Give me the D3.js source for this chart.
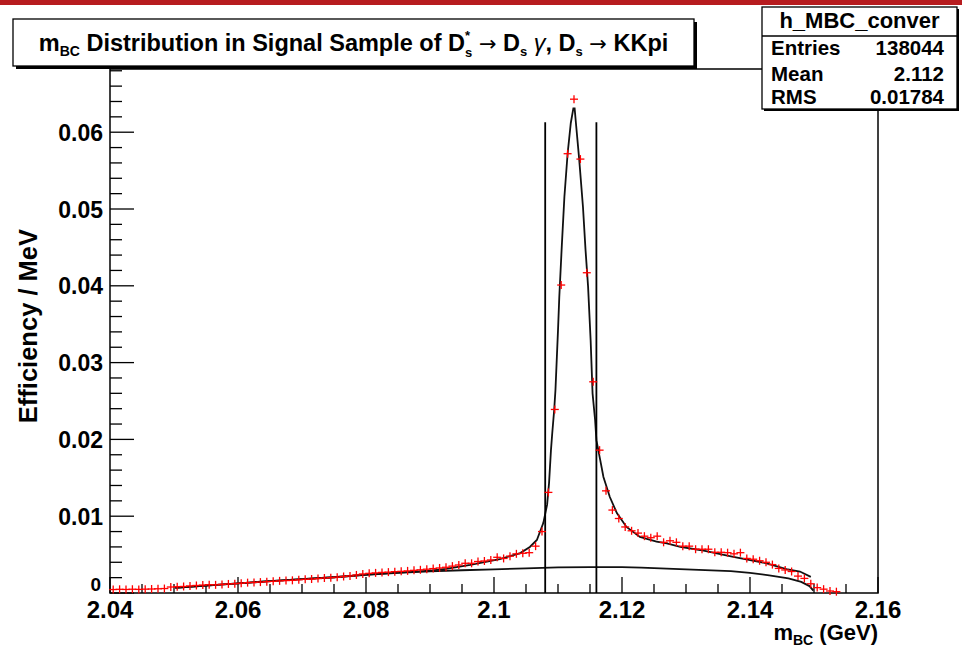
<!DOCTYPE html>
<html>
<head>
<meta charset="utf-8">
<script src="https://d3js.org/d3.v7.min.js"></script>
<style>
  body { margin: 0; background: #fff; }
  svg { display: block; font-family: 'Liberation Sans', Arial, sans-serif; font-weight: bold; }
</style>
</head>
<body>
<svg></svg>
<script>
// efficiency per 1 MeV bin, bins start at 2.040 GeV
const efficiency = [
  0.00045, 0.00048, 0.00046, 0.00049, 0.00047, 0.00050, 0.00052, 0.00055, 0.00058, 0.00078,
  0.00082, 0.00085, 0.00092, 0.00098, 0.00103, 0.00108, 0.00106, 0.00112, 0.00118, 0.00122,
  0.00128, 0.00135, 0.00138, 0.00142, 0.00148, 0.00152, 0.00158, 0.00162, 0.00165, 0.00172,
  0.00178, 0.00182, 0.00188, 0.00195, 0.00200, 0.00206, 0.00215, 0.00222, 0.00235, 0.00248,
  0.00256, 0.00262, 0.00268, 0.00272, 0.00278, 0.00282, 0.00288, 0.00295, 0.00302, 0.00310,
  0.00318, 0.00326, 0.00335, 0.00350, 0.00365, 0.00387, 0.00387, 0.00410, 0.00417, 0.00430,
  0.00465, 0.00450, 0.00480, 0.00510, 0.00517, 0.00525, 0.00610, 0.00800, 0.01310, 0.02390,
  0.04010, 0.05720, 0.06430, 0.05650, 0.04170, 0.02750, 0.01860, 0.01330, 0.01080, 0.00970,
  0.00860, 0.00810, 0.00780, 0.00740, 0.00720, 0.00740, 0.00660, 0.00680, 0.00660, 0.00610,
  0.00610, 0.00570, 0.00570, 0.00570, 0.00530, 0.00530, 0.00525, 0.00510, 0.00525, 0.00450,
  0.00440, 0.00420, 0.00400, 0.00370, 0.00320, 0.00300, 0.00280, 0.00220, 0.00190, 0.00120,
  0.00070, 0.00050, 0.00026, 0.00017, 0, 0, 0, 0, 0, 0
]
const binStart = 2.04
const binWidth = 0.001

// total fit curve
const fitMass = [
  2.0502, 2.055, 2.060, 2.065, 2.070, 2.075, 2.080, 2.085, 2.090, 2.0925,
  2.0963, 2.1009, 2.1041, 2.1056, 2.1067, 2.1077, 2.1083, 2.1086, 2.1089, 2.1091,
  2.1094, 2.1096, 2.1098, 2.1100, 2.1102, 2.1106, 2.1110, 2.1115, 2.1120, 2.1124,
  2.1126, 2.1128, 2.1133, 2.1139, 2.1143, 2.1147, 2.1151, 2.1154, 2.1158, 2.1160,
  2.1166, 2.1171, 2.1181, 2.1192, 2.1207, 2.1228, 2.1254, 2.1270, 2.1291, 2.1322,
  2.1374, 2.1426, 2.1457, 2.1478, 2.1495
]
const fitEff = [
  0.00068, 0.00095, 0.00125, 0.00155, 0.00180, 0.00205, 0.00238, 0.00265, 0.00292, 0.00315,
  0.00365, 0.00440, 0.00520, 0.00600, 0.00690, 0.00910, 0.01150, 0.01430, 0.01860, 0.02080,
  0.02380, 0.02640, 0.03030, 0.03420, 0.03850, 0.04530, 0.05160, 0.05720, 0.06120, 0.06310,
  0.06310, 0.06120, 0.05660, 0.05030, 0.04470, 0.03990, 0.03290, 0.02600, 0.02250, 0.01990,
  0.01730, 0.01510, 0.01250, 0.01040, 0.00860, 0.00730, 0.00670, 0.00647, 0.00600, 0.00560,
  0.00470, 0.00387, 0.00310, 0.00280, 0.00210
]

// background component
const bgMass = [
  2.0502, 2.055, 2.060, 2.065, 2.070, 2.075, 2.080, 2.085, 2.090, 2.095,
  2.100, 2.105, 2.110, 2.115, 2.120, 2.123, 2.127, 2.132, 2.137, 2.140,
  2.143, 2.146, 2.148, 2.1493, 2.1499
]
const bgEff = [
  0.00068, 0.00095, 0.00125, 0.00155, 0.00180, 0.00205, 0.00235, 0.00262, 0.00282, 0.00296,
  0.00308, 0.00320, 0.00333, 0.00338, 0.00336, 0.00330, 0.00318, 0.00302, 0.00285, 0.00262,
  0.00230, 0.00190, 0.00145, 0.00090, 0.00030
]

const cutLines = [2.1080, 2.1160]
const cutTop = 0.0613

const xTicks = [2.04, 2.06, 2.08, 2.1, 2.12, 2.14, 2.16]
const xTickLabels = ['2.04', '2.06', '2.08', '2.1', '2.12', '2.14', '2.16']
const yTicks = [0, 0.01, 0.02, 0.03, 0.04, 0.05, 0.06]
const yTickLabels = ['0', '0.01', '0.02', '0.03', '0.04', '0.05', '0.06']

const statsName = 'h_MBC_conver'
const statsLabels = ['Entries', 'Mean', 'RMS']
const statsValues = ['138044', '2.112', '0.01784']

const width = 962
const height = 649
const frame = {left: 110, right: 878, top: 69, bottom: 593}

const svg = d3.select('svg')
  .attr('width', width)
  .attr('height', height)

const x = d3.scaleLinear().domain([2.04, 2.16]).range([frame.left, frame.right])
const y = d3.scaleLinear().domain([0, 0.06823]).range([frame.bottom, frame.top])

// red band at top of the slide
svg.append('rect')
  .attr('x', 0).attr('y', 0)
  .attr('width', width).attr('height', 5)
  .attr('fill', '#b71c1f')

// frame
svg.append('rect')
  .attr('x', frame.left).attr('y', frame.top)
  .attr('width', frame.right - frame.left)
  .attr('height', frame.bottom - frame.top)
  .attr('fill', 'none')
  .attr('stroke', '#000')
  .attr('stroke-width', 1.5)

// ticks, drawn inwards like ROOT
const xMinor = d3.range(0, 25).map(i => 2.04 + i * 0.005)
svg.selectAll('.xtick')
  .data(xMinor)
  .enter()
  .append('line')
    .attr('class', 'xtick')
    .attr('x1', d => x(d)).attr('x2', d => x(d))
    .attr('y1', frame.bottom)
    .attr('y2', (d, i) => frame.bottom - (i % 4 === 0 ? 16 : 9))
    .attr('stroke', '#000')
    .attr('stroke-width', 1.3)

const yMinor = d3.range(0, 35).map(i => i * 0.002)
svg.selectAll('.ytick')
  .data(yMinor)
  .enter()
  .append('line')
    .attr('class', 'ytick')
    .attr('y1', d => y(d)).attr('y2', d => y(d))
    .attr('x1', frame.left)
    .attr('x2', (d, i) => frame.left + (i % 5 === 0 ? 24 : 12))
    .attr('stroke', '#000')
    .attr('stroke-width', 1.3)

svg.selectAll('.xlabel')
  .data(xTicks)
  .enter()
  .append('text')
    .attr('class', 'xlabel')
    .attr('x', d => x(d))
    .attr('y', 618)
    .attr('text-anchor', 'middle')
    .attr('font-size', 24)
    .text((d, i) => xTickLabels[i])

svg.selectAll('.ylabel')
  .data(yTicks)
  .enter()
  .append('text')
    .attr('class', 'ylabel')
    .attr('x', d => d === 0 ? 101 : 103)
    .attr('y', d => y(d) + (d === 0 ? -2 : 8.5))
    .attr('text-anchor', 'end')
    .attr('font-size', d => d === 0 ? 19 : 23)
    .text((d, i) => yTickLabels[i])

// axis titles
svg.append('text')
  .attr('transform', 'translate(37,229) rotate(-90)')
  .attr('text-anchor', 'end')
  .attr('font-size', 25.5)
  .text('Efficiency / MeV')

const xTitle = svg.append('text')
  .attr('x', frame.right)
  .attr('y', 640)
  .attr('text-anchor', 'end')
  .attr('font-size', 22)
xTitle.append('tspan').text('m')
xTitle.append('tspan').attr('font-size', 14).attr('dy', 5).text('BC')
xTitle.append('tspan').attr('dy', -5).text(' (GeV)')

// background and total fit curves
const line = d3.line()
  .x(d => x(d[0]))
  .y(d => y(d[1]))

svg.append('path')
  .datum(bgMass.map((m, i) => [m, bgEff[i]]))
  .attr('d', line)
  .attr('fill', 'none')
  .attr('stroke', '#111')
  .attr('stroke-width', 1.8)

svg.append('path')
  .datum(fitMass.map((m, i) => [m, fitEff[i]]))
  .attr('d', line)
  .attr('fill', 'none')
  .attr('stroke', '#111')
  .attr('stroke-width', 1.8)

// signal window
svg.selectAll('.cut')
  .data(cutLines)
  .enter()
  .append('line')
    .attr('class', 'cut')
    .attr('x1', d => x(d)).attr('x2', d => x(d))
    .attr('y1', y(cutTop)).attr('y2', frame.bottom)
    .attr('stroke', '#000')
    .attr('stroke-width', 1.8)

// data points
const points = efficiency
  .map((v, i) => ({m: binStart + (i + 0.5) * binWidth, v: v}))
  .filter(d => d.v > 0)

const half = (x(binStart + binWidth) - x(binStart)) / 2
const marks = svg.selectAll('.pt')
  .data(points)
  .enter()
  .append('g')
    .attr('class', 'pt')
    .attr('transform', d => `translate(${x(d.m)},${y(d.v)})`)

marks.append('line')
  .attr('x1', -Math.max(half, 4)).attr('x2', Math.max(half, 4))
  .attr('y1', 0).attr('y2', 0)
  .attr('stroke', '#f00').attr('stroke-width', 1.3)
marks.append('line')
  .attr('x1', 0).attr('x2', 0)
  .attr('y1', -4).attr('y2', 4)
  .attr('stroke', '#f00').attr('stroke-width', 1.3)

// title box
const tb = {x: 13, y: 19, w: 681, h: 47}
svg.append('rect')
  .attr('x', tb.x + 3).attr('y', tb.y + 3)
  .attr('width', tb.w).attr('height', tb.h)
  .attr('fill', '#000')
svg.append('rect')
  .attr('x', tb.x).attr('y', tb.y)
  .attr('width', tb.w).attr('height', tb.h)
  .attr('fill', '#fff')
  .attr('stroke', '#000')
  .attr('stroke-width', 1.3)

const arrow = sel => sel.attr('font-family', 'DejaVu Sans').attr('font-weight', 'normal').attr('font-size', 21)
const title = svg.append('text')
  .attr('x', tb.x + tb.w / 2)
  .attr('y', 51)
  .attr('text-anchor', 'middle')
  .attr('font-size', 23.5)
title.append('tspan').text('m')
title.append('tspan').attr('font-size', 14).attr('dy', 5).text('BC')
title.append('tspan').attr('dy', -5).text(' Distribution in Signal Sample of D')
title.append('tspan').attr('font-size', 13).attr('dy', -11).text('*')
title.append('tspan').attr('font-size', 13).attr('dx', -5).attr('dy', 17).text('s')
title.append('tspan').attr('dy', -6).text(' ')
title.append('tspan').call(arrow).text('\u2192')
title.append('tspan').text(' D')
title.append('tspan').attr('font-size', 13).attr('dy', 5).text('s')
title.append('tspan').attr('dy', -5).attr('font-weight', 'normal').attr('font-style', 'italic').text(' \u03b3')
title.append('tspan').text(', D')
title.append('tspan').attr('font-size', 13).attr('dy', 5).text('s')
title.append('tspan').attr('dy', -5).text(' ')
title.append('tspan').call(arrow).text('\u2192')
title.append('tspan').text(' KKpi')

// stats box
const sb = {x: 762, y: 7, w: 195, h: 102}
svg.append('rect')
  .attr('x', sb.x + 2).attr('y', sb.y + 2)
  .attr('width', sb.w).attr('height', sb.h)
  .attr('fill', '#000')
svg.append('rect')
  .attr('x', sb.x).attr('y', sb.y)
  .attr('width', sb.w).attr('height', sb.h)
  .attr('fill', '#fff')
  .attr('stroke', '#000')
  .attr('stroke-width', 1.3)
svg.append('line')
  .attr('x1', sb.x).attr('x2', sb.x + sb.w)
  .attr('y1', 36).attr('y2', 36)
  .attr('stroke', '#000')
  .attr('stroke-width', 1.3)

svg.append('text')
  .attr('x', sb.x + sb.w / 2)
  .attr('y', 28)
  .attr('text-anchor', 'middle')
  .attr('font-size', 22)
  .text(statsName)

const rowY = [55, 81, 104]
svg.selectAll('.slabel')
  .data(statsLabels)
  .enter()
  .append('text')
    .attr('class', 'slabel')
    .attr('x', 771)
    .attr('y', (d, i) => rowY[i])
    .attr('font-size', 20.5)
    .text(d => d)
svg.selectAll('.svalue')
  .data(statsValues)
  .enter()
  .append('text')
    .attr('class', 'svalue')
    .attr('x', 944)
    .attr('y', (d, i) => rowY[i])
    .attr('text-anchor', 'end')
    .attr('font-size', 20.5)
    .text(d => d)
</script>
</body>
</html>
